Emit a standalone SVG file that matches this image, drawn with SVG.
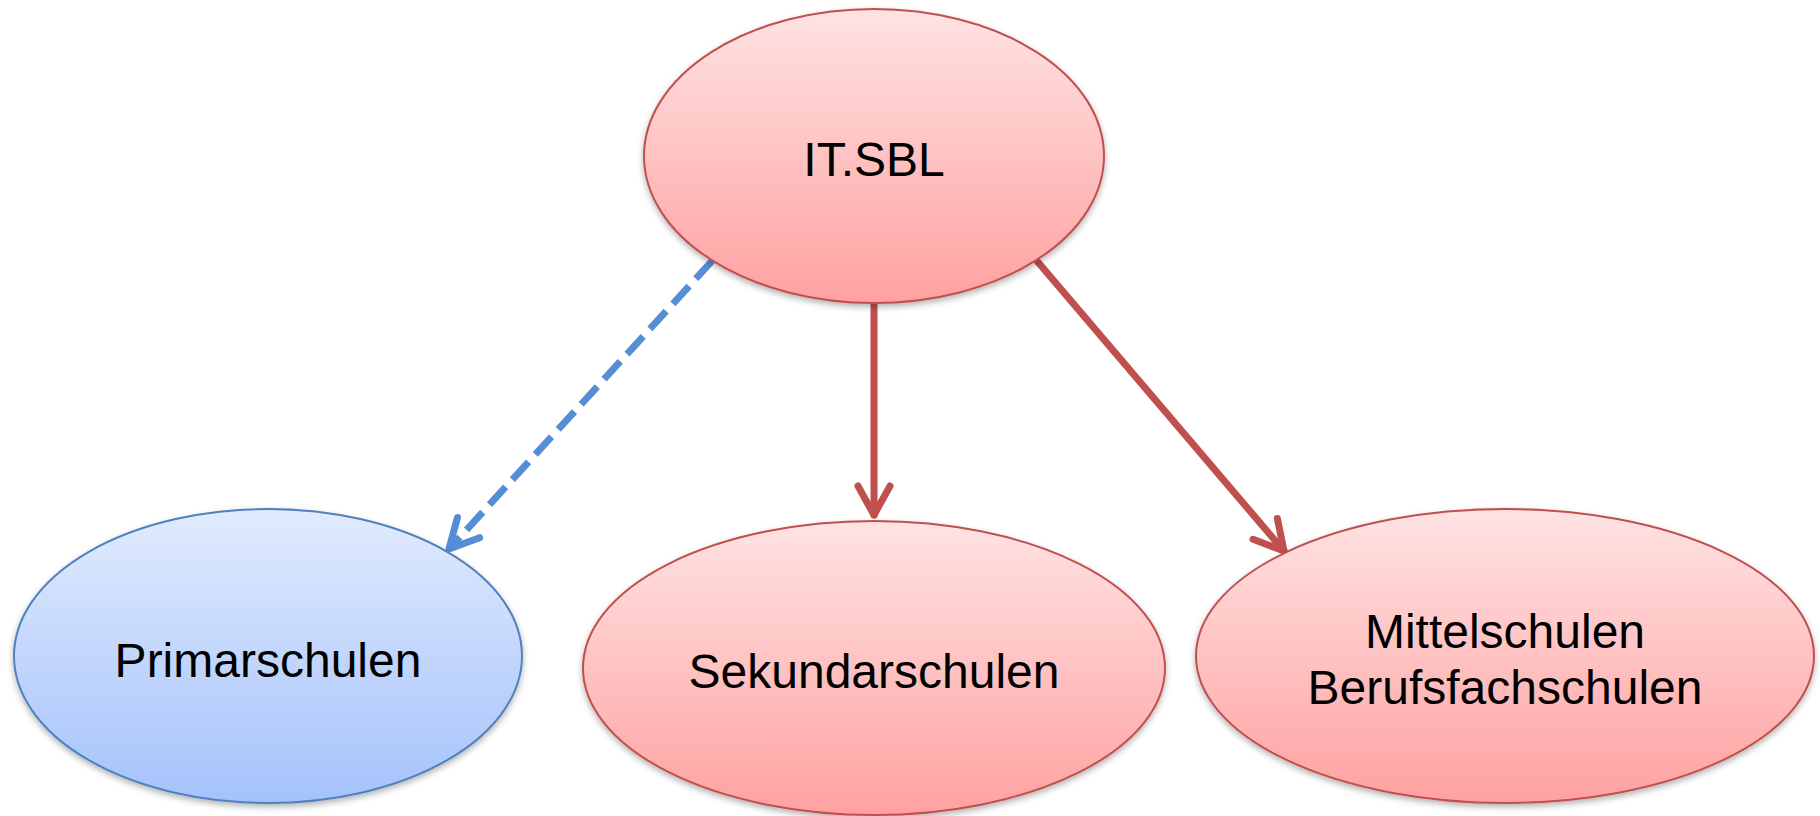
<svg xmlns="http://www.w3.org/2000/svg" width="1820" height="816" viewBox="0 0 1820 816">
  <style>
    .lbl { font-family: "Liberation Sans", Arial, sans-serif; font-size: 48px; fill: #000; text-anchor: middle; }
    .red { fill: url(#gRed); stroke: #C0504D; stroke-width: 2; filter: url(#sh); }
    .blue { fill: url(#gBlue); stroke: #4F81BD; stroke-width: 2; filter: url(#sh); }
    .conR { stroke: #C0504D; stroke-width: 7; fill: none; stroke-linecap: round; marker-end: url(#mR); }
    .conB { stroke: #558ED5; stroke-width: 7; fill: none; stroke-dasharray: 24 10; marker-end: url(#mB); }
  </style>
  <defs>
    <linearGradient id="gRed" x1="0" y1="0" x2="0" y2="1">
      <stop offset="0" stop-color="#FFE3E3"/>
      <stop offset="1" stop-color="#FFA1A1"/>
    </linearGradient>
    <linearGradient id="gBlue" x1="0" y1="0" x2="0" y2="1">
      <stop offset="0" stop-color="#E1EBFD"/>
      <stop offset="1" stop-color="#A4C2FB"/>
    </linearGradient>
    <filter id="sh" x="-10%" y="-10%" width="120%" height="125%">
      <feDropShadow dx="0" dy="3" stdDeviation="3" flood-color="#000" flood-opacity="0.3"/>
    </filter>
    <marker id="mR" markerUnits="userSpaceOnUse" orient="auto" refX="0" refY="0" overflow="visible">
      <path d="M -29 -16 L 0 0 L -29 16" fill="none" stroke="#C0504D" stroke-width="7" stroke-linecap="round" stroke-linejoin="round"/>
    </marker>
    <marker id="mB" markerUnits="userSpaceOnUse" orient="auto" refX="0" refY="0" overflow="visible">
      <path d="M -29 -15 L 0 0 L -29 15" fill="none" stroke="#558ED5" stroke-width="7" stroke-linecap="round" stroke-linejoin="round"/>
    </marker>
  </defs>
  <rect width="1820" height="816" fill="#fff"/>

  <g id="connectors">
    <line class="conB" x1="712" y1="261" x2="449" y2="549"/>
    <line class="conR" x1="874" y1="304" x2="874" y2="515"/>
    <line class="conR" x1="1037" y1="261" x2="1284" y2="551"/>
  </g>

  <g id="it-sbl">
    <ellipse class="red" cx="874" cy="156" rx="230" ry="147"/>
    <text class="lbl" x="874" y="176">IT.SBL</text>
  </g>
  <g id="primarschulen">
    <ellipse class="blue" cx="268" cy="656" rx="254" ry="147"/>
    <text class="lbl" x="268" y="677">Primarschulen</text>
  </g>
  <g id="sekundarschulen">
    <ellipse class="red" cx="874" cy="668" rx="291" ry="147"/>
    <text class="lbl" x="874" y="688">Sekundarschulen</text>
  </g>
  <g id="mittelschulen">
    <ellipse class="red" cx="1505" cy="656" rx="309" ry="147"/>
    <text class="lbl" x="1505" y="648">Mittelschulen</text>
    <text class="lbl" x="1505" y="704">Berufsfachschulen</text>
  </g>
</svg>
